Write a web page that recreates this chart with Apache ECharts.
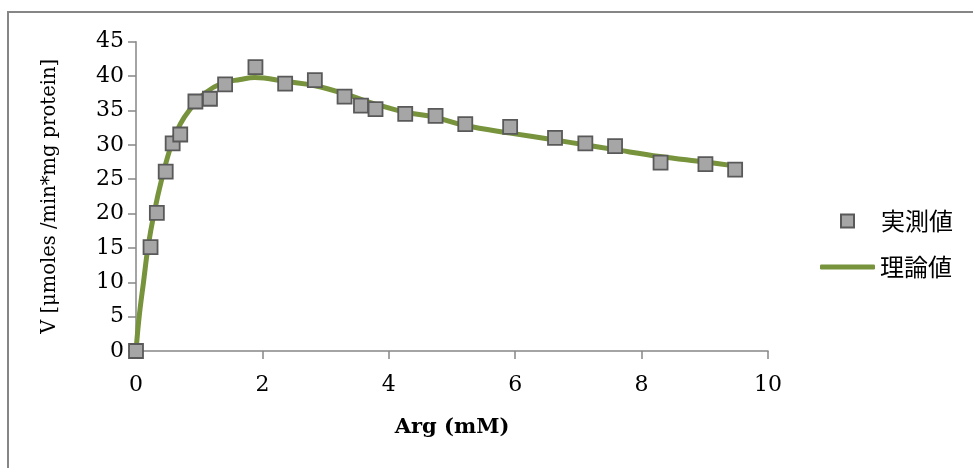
<!DOCTYPE html>
<html>
<head>
<meta charset="utf-8">
<script src="https://cdn.jsdelivr.net/npm/echarts@6/dist/echarts.min.js"></script>
<style>
html,body{margin:0;padding:0;background:#fff;}
#chart{width:973px;height:468px;}
</style>
</head>
<body>
<div id="chart"></div>
<script>
// Measured data (実測値)
const measuredX = [0, 0.23, 0.33, 0.47, 0.58, 0.70, 0.94, 1.17, 1.41, 1.89, 2.36, 2.83, 3.30, 3.56, 3.79, 4.26, 4.74, 5.21, 5.92, 6.63, 7.11, 7.58, 8.30, 9.01, 9.48];
const measuredY = [0, 15.1, 20.1, 26.1, 30.2, 31.5, 36.3, 36.7, 38.8, 41.3, 38.9, 39.4, 37.0, 35.7, 35.2, 34.5, 34.2, 33.0, 32.6, 31.0, 30.2, 29.8, 27.4, 27.2, 26.4];
// Theoretical curve (理論値)
const theoryX = [0, 0.05, 0.12, 0.19, 0.285, 0.41, 0.56, 0.70, 0.85, 1.09, 1.36, 1.65, 1.88, 2.38, 2.83, 3.33, 3.76, 4.23, 4.73, 5.21, 5.92, 6.63, 7.10, 7.58, 8.29, 9.00, 9.50];
const theoryY = [0, 5.0, 10.1, 15.1, 20.0, 25.1, 30.0, 33.0, 35.1, 37.5, 38.95, 39.5, 39.8, 39.2, 38.6, 37.35, 36.0, 34.8, 34.0, 32.8, 31.7, 30.7, 30.0, 29.3, 28.3, 27.5, 26.9];
const seriesNames = ['実測値', '理論値'];
const xTicks = [0, 2, 4, 6, 8, 10];
const yTicks = [0, 5, 10, 15, 20, 25, 30, 35, 40, 45];

const serif = '"DejaVu Serif", "Liberation Serif", serif';
const cjk = '"Noto Sans CJK JP", "Noto Sans", sans-serif';
const axisGray = '#868686';

const chart = echarts.init(document.getElementById('chart'), null, {renderer: 'canvas'});
chart.setOption({
  animation: false,
  backgroundColor: '#fff',
  graphic: [{
    type: 'rect',
    shape: {x: 8, y: 12, width: 1000, height: 500},
    style: {fill: 'none', stroke: axisGray, lineWidth: 2},
    silent: true, z: -1
  }],
  grid: {left: 136, right: 205, top: 41.7, bottom: 117, containLabel: false},
  xAxis: {
    type: 'value', min: xTicks[0], max: xTicks[xTicks.length - 1], interval: 2,
    name: 'Arg (mM)', nameLocation: 'middle', nameGap: 66,
    nameTextStyle: {fontFamily: serif, fontSize: 21, fontWeight: 'bold', color: '#000'},
    axisLine: {lineStyle: {color: axisGray, width: 1.5}},
    axisTick: {show: true, length: 8, lineStyle: {color: axisGray, width: 1.5}},
    axisLabel: {fontFamily: serif, fontSize: 22, color: '#000', margin: 23},
    splitLine: {show: false}
  },
  yAxis: {
    type: 'value', min: yTicks[0], max: yTicks[yTicks.length - 1], interval: 5,
    name: 'V [μmoles /min*mg protein]', nameLocation: 'middle', nameGap: 76, nameRotate: 90,
    nameTextStyle: {fontFamily: serif, fontSize: 19.5, color: '#000'},
    axisLine: {show: true, lineStyle: {color: axisGray, width: 1.5}},
    axisTick: {show: true, length: 8, lineStyle: {color: axisGray, width: 1.5}},
    axisLabel: {fontFamily: serif, fontSize: 22, color: '#000', margin: 12},
    splitLine: {show: false}
  },
  legend: [{
    data: [seriesNames[0]],
    orient: 'vertical', left: 840, top: 209, padding: 0,
    itemWidth: 13, itemHeight: 13,
    textStyle: {fontFamily: cjk, fontSize: 24, color: '#000', padding: [0, 0, 0, 22]}
  }, {
    data: [{name: seriesNames[1], icon: 'roundRect'}],
    orient: 'vertical', left: 820, top: 255, padding: 0,
    itemWidth: 55, itemHeight: 5,
    textStyle: {fontFamily: cjk, fontSize: 24, color: '#000'}
  }],
  series: [{
    name: seriesNames[1], type: 'line', smooth: 0.4, symbol: 'none',
    data: theoryX.map((x, i) => [x, theoryY[i]]),
    lineStyle: {color: '#77933C', width: 5},
    itemStyle: {color: '#77933C'},
    z: 2
  }, {
    name: seriesNames[0], type: 'scatter', symbol: 'rect', symbolSize: 14,
    data: measuredX.map((x, i) => [x, measuredY[i]]),
    itemStyle: {color: '#A6A6A6', borderColor: '#595959', borderWidth: 1.8, opacity: 1},
    z: 3
  }]
});
</script>
</body>
</html>
